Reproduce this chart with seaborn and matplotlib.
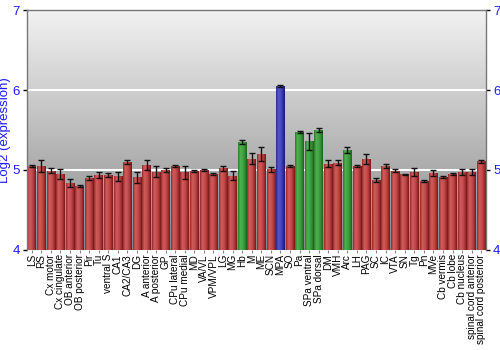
import numpy as np
import matplotlib
matplotlib.use("Agg")
import matplotlib.pyplot as plt
from matplotlib.colors import LinearSegmentedColormap
import seaborn as sns

labels = ["LS", "RS", "Cx motor", "Cx cingulate", "OB anterior", "OB posterior", "Pir", "Tu",
          "ventral S", "CA1", "CA2/CA3", "DG", "A anterior", "A posterior", "GP", "CPu lateral",
          "CPu medial", "MD", "VA/VL", "VPM/VPL", "LG", "MG", "Hb", "M", "ME", "SCN", "MPA", "SO",
          "Pa", "SPa ventral", "SPa dorsal", "DM", "VMH", "Arc", "LH", "PAG", "SC", "IC", "VTA",
          "SN", "Tg", "Pn", "MVe", "Cb vermis", "Cb lobe", "Cb nucleus", "spinal cord anterior",
          "spinal cord posterior"]
values = [5.05, 5.05, 4.99, 4.95, 4.84, 4.80, 4.90, 4.94, 4.94, 4.92, 5.10, 4.91, 5.06, 4.98,
          5.00, 5.05, 4.97, 4.99, 5.00, 4.95, 5.02, 4.93, 5.35, 5.14, 5.20, 5.01, 6.05, 5.05,
          5.475, 5.36, 5.50, 5.08, 5.09, 5.25, 5.05, 5.14, 4.875, 5.05, 4.99, 4.945, 4.975, 4.86,
          4.96, 4.91, 4.95, 4.975, 4.975, 5.11]
errors = [0.01, 0.07, 0.03, 0.06, 0.05, 0.01, 0.03, 0.04, 0.025, 0.055, 0.03, 0.07, 0.06, 0.07,
          0.03, 0.01, 0.08, 0.01, 0.01, 0.01, 0.03, 0.055, 0.02, 0.07, 0.09, 0.03, 0.01, 0.01,
          0.01, 0.105, 0.03, 0.04, 0.03, 0.04, 0.01, 0.065, 0.03, 0.03, 0.02, 0.01, 0.05, 0.01,
          0.04, 0.01, 0.01, 0.04, 0.04, 0.02]
groups = ["red"] * 22 + ["green"] + ["red"] * 3 + ["blue"] + ["red"] + ["green"] * 3 + \
         ["red"] * 2 + ["green"] + ["red"] * 14
y_ticks = [4, 5, 6, 7]

base_colors = {"red": "#b83a3a", "green": "#3a9a3a", "blue": "#3a3ab8"}
grad_stops = {
    "red": ["#922a2a", "#d05a5a", "#c85050", "#ae3838", "#741818"],
    "green": ["#2a7a2a", "#4fb04f", "#45a645", "#338f33", "#1c621c"],
    "blue": ["#2a2a8a", "#5454c9", "#4a4ac2", "#3434a8", "#16166e"],
}

sns.set_theme(style="white")
plt.rcParams['font.family'] = ['Liberation Sans', 'DejaVu Sans']

fig = plt.figure(figsize=(5, 3.5), dpi=100)
ax = fig.add_axes([0.054, 0.286, 0.918, 0.685])

palette = [base_colors[g] for g in groups]
sns.barplot(x=labels, y=values, hue=labels, palette=palette, legend=False,
            width=0.9, ax=ax, saturation=1, zorder=2)

ax.set_ylim(4, 7)
ax.set_xlim(-0.5, len(labels) - 0.5)

# background vertical gradient
bg_cmap = LinearSegmentedColormap.from_list("bg", ["#888888", "#f2f2f2"])
grad = np.linspace(0, 1, 256).reshape(-1, 1)
ax.imshow(grad, cmap=bg_cmap, aspect="auto", extent=[0, 1, 0, 1],
          transform=ax.transAxes, origin="lower", zorder=0)

# white grid lines
for yv in [5, 6]:
    ax.axhline(yv, color="white", lw=1.5, zorder=1)

# bar cylinder gradients
hgrad = np.linspace(0, 1, 64).reshape(1, -1)
for p, g in zip(ax.patches, groups):
    x0, w, h = p.get_x(), p.get_width(), p.get_height()
    cm = LinearSegmentedColormap.from_list("b" + g, grad_stops[g])
    im = ax.imshow(hgrad, cmap=cm, aspect="auto",
                   extent=[x0, x0 + w, ax.get_ylim()[0], h], zorder=2.5)
    im.set_clip_path(p)
    p.set_edgecolor("none")

ax.errorbar(x=np.arange(len(labels)), y=values, yerr=errors, fmt="none",
            ecolor="#111111", elinewidth=1.0, capsize=2.2, capthick=1.0, zorder=4)

ax.set_ylim(4, 7)
ax.set_xlim(-0.5, len(labels) - 0.5)

ax.set_yticks(y_ticks)
ax.set_yticklabels([str(t) for t in y_ticks])
ax.tick_params(axis="y", which="both", left=True, right=True, labelleft=True, labelright=True,
               length=3, width=1, color="black", labelcolor="#1a1aff", labelsize=9.5, pad=2)
ax.tick_params(axis="x", bottom=True, length=2, width=0.8, color="#888888",
               labelsize=7.2, labelrotation=90, pad=1, labelcolor="black")
for lab in ax.get_xticklabels():
    lab.set_verticalalignment("top")
    lab.set_horizontalalignment("center")

ax.set_ylabel("Log2 (expression)", color="#1a1aff", fontsize=9.5, va="center")
ax.yaxis.set_label_coords(-0.047, 0.5)
ax.set_xlabel("")

for side in ["left", "right", "top"]:
    ax.spines[side].set_visible(True)
    ax.spines[side].set_color("#777777")
    ax.spines[side].set_linewidth(1)
ax.spines["bottom"].set_visible(False)

fig.savefig("out.png", dpi=100)
